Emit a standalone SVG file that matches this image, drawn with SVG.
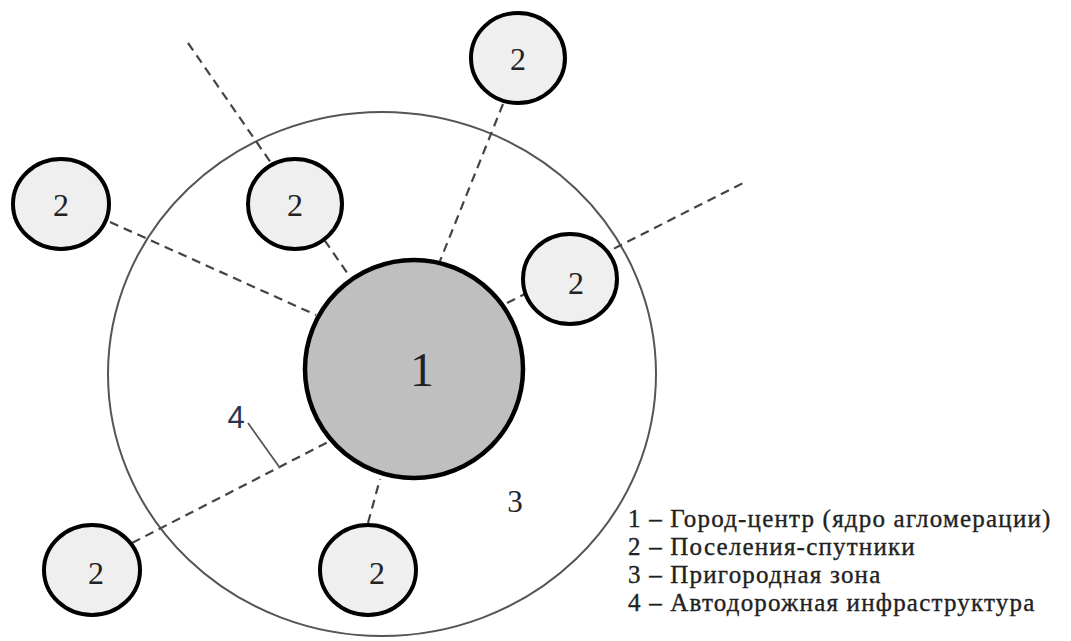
<svg xmlns="http://www.w3.org/2000/svg" width="1071" height="641" viewBox="0 0 1071 641">
<style>
.zone{fill:none;stroke:#555;stroke-width:2}
.core{fill:#bfbfbf;stroke:#000;stroke-width:4.5}
.sat{fill:#efefef;stroke:#000;stroke-width:4}
.road{stroke:#444;stroke-width:2.2;stroke-dasharray:9,6;fill:none}
.num{font-family:"Liberation Serif","Times New Roman",serif;fill:#222;text-anchor:middle}
.leg{font-family:"Liberation Serif","Times New Roman",serif;font-size:25px;letter-spacing:1.2px;fill:#222;stroke:#222;stroke-width:0.35}
</style>
<rect width="1071" height="641" fill="#fff"/>
<g id="zone3">
<ellipse class="zone" cx="382" cy="374" rx="274" ry="262"/>
<text class="num" x="515" y="512" font-size="31">3</text>
</g>
<g id="connectors">
<line class="road" x1="503" y1="104" x2="440" y2="261"/>
<line class="road" x1="188" y1="43" x2="350" y2="277"/>
<line class="road" x1="110" y1="222" x2="316" y2="315"/>
<line class="road" x1="507" y1="303" x2="745" y2="182"/>
<line class="road" x1="132" y1="543" x2="330" y2="441"/>
<line class="road" x1="368" y1="523" x2="380" y2="479"/>
</g>
<g id="label4">
<line x1="248" y1="423" x2="280" y2="468" stroke="#555" stroke-width="1.8"/>
<text x="236" y="428" font-family="Liberation Sans, Arial, sans-serif" font-size="31" fill="#2a3550" text-anchor="middle">4</text>
</g>
<g id="core">
<circle class="core" cx="414" cy="369" r="109"/>
<text class="num" x="422" y="386" font-size="48">1</text>
</g>
<g id="sat-top">
<ellipse class="sat" cx="518" cy="58" rx="47" ry="45"/>
<text class="num" x="518" y="70" font-size="32">2</text>
</g>
<g id="sat-upper-mid">
<ellipse class="sat" cx="295" cy="204" rx="47" ry="45"/>
<text class="num" x="295" y="216" font-size="32">2</text>
</g>
<g id="sat-left">
<ellipse class="sat" cx="61" cy="204" rx="48" ry="45"/>
<text class="num" x="61" y="216" font-size="32">2</text>
</g>
<g id="sat-right">
<ellipse class="sat" cx="570" cy="279" rx="47" ry="45"/>
<text class="num" x="576" y="294" font-size="32">2</text>
</g>
<g id="sat-bottom-left">
<ellipse class="sat" cx="92" cy="570" rx="48" ry="45"/>
<text class="num" x="96" y="584" font-size="32">2</text>
</g>
<g id="sat-bottom-mid">
<ellipse class="sat" cx="368" cy="570" rx="48" ry="45"/>
<text class="num" x="377" y="584" font-size="32">2</text>
</g>
<g id="legend">
<text class="leg" x="628" y="527">1 – Город-центр (ядро агломерации)</text>
<text class="leg" x="628" y="555">2 – Поселения-спутники</text>
<text class="leg" x="628" y="583">3 – Пригородная зона</text>
<text class="leg" x="628" y="611">4 – Автодорожная инфраструктура</text>
</g>
</svg>
